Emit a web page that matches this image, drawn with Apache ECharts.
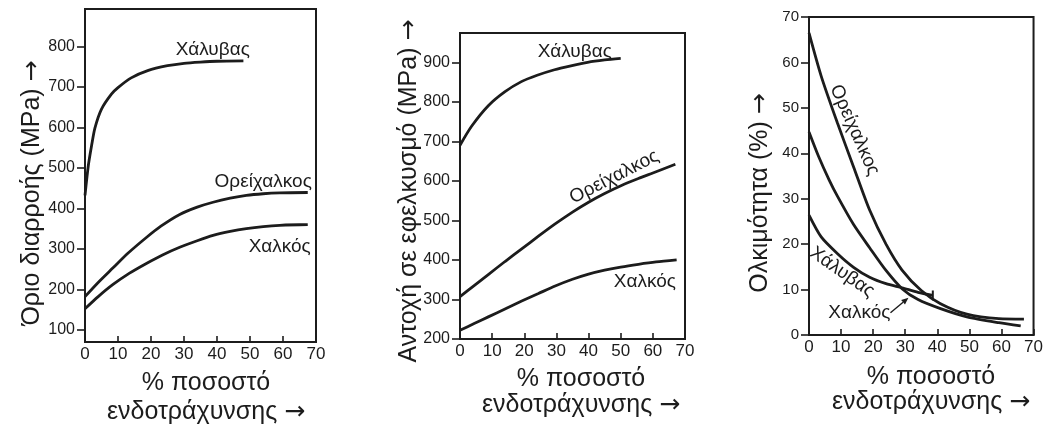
<!DOCTYPE html>
<html>
<head>
<meta charset="utf-8">
<script src="https://cdn.jsdelivr.net/npm/echarts@6/dist/echarts.min.js"></script>
<style>
  html, body { margin: 0; padding: 0; background: #ffffff; }
  #c { width: 1046px; height: 432px; }
</style>
</head>
<body>
<div id="c"></div>
<script>
// ---- data: [% cold work, value] ----
const xTicks = [0, 10, 20, 30, 40, 50, 60, 70];
const yieldTicks = [100, 200, 300, 400, 500, 600, 700, 800];
const tensileTicks = [200, 300, 400, 500, 600, 700, 800, 900];
const ductilityTicks = [0, 10, 20, 30, 40, 50, 60, 70];

const steelName = 'Χάλυβας';
const brassName = 'Ορείχαλκος';
const copperName = 'Χαλκός';

// Yield strength (MPa)
const yieldSteel = [[0, 432], [1, 505], [2, 555], [3, 598], [5, 645], [8, 682], [10, 698], [14, 722], [19, 740], [25, 752], [30, 758], [35, 761], [40, 763], [48, 764]];
const yieldBrass = [[0, 182], [4, 217], [8.5, 253], [13, 289], [18.6, 328], [23, 356], [28.7, 385], [34, 403], [38.8, 415], [44, 425], [48.9, 432], [54, 436], [59, 438], [67.5, 439]];
const yieldCopper = [[0, 152], [4, 182], [8.5, 212], [13.5, 240], [18.6, 264], [23.5, 285], [28.7, 304], [34, 320], [38.8, 333], [44, 343], [48.9, 350], [54, 355], [59, 358], [67.5, 360]];

// Tensile strength (MPa)
const tensileSteel = [[0, 690], [3.6, 738], [8.8, 790], [13.9, 825], [19.1, 851], [24, 867], [29.4, 881], [34.5, 891], [39.7, 900], [45, 906], [50, 910]];
const tensileBrass = [[0, 307], [4.4, 335], [8.8, 363], [14, 396], [19.2, 428], [24.4, 460], [29.6, 491], [35, 521], [40, 546], [45, 568], [50.4, 589], [55.5, 606], [60, 620], [67, 642]];
const tensileCopper = [[0, 222], [4.4, 239], [8.8, 256], [14, 276], [19.2, 296], [24.4, 315], [29.6, 334], [35, 351], [40, 364], [45, 374], [50, 382], [55.5, 389], [61, 395], [67.4, 400]];

// Ductility (%EL)
const ductSteel = [[0, 26.4], [3.8, 21.6], [8.9, 17.9], [13.9, 14.9], [18.9, 12.7], [24, 11.3], [29, 10.4], [34, 9.4], [38.6, 8.7]];
const ductBrass = [[0, 66.5], [3.8, 57], [8.9, 46.6], [13.9, 37], [18.9, 27.5], [24, 20], [29, 14.3], [35, 9.8], [41, 6.9], [49.2, 4.6], [59.2, 3.6], [67, 3.5]];
const ductCopper = [[0, 44.7], [3, 39.3], [6.3, 34.1], [8.9, 30.5], [13.9, 24.3], [18.9, 19.2], [24, 14.2], [29, 10.2], [34, 7.8], [41, 5.8], [49.2, 4.0], [59.2, 2.7], [66, 2.0]];

const yTitles = ['Όριο διαρροής (MPa)', 'Αντοχή σε εφελκυσμό (MPa)', 'Ολκιμότητα (%)'];
const xTitleLines = ['% ποσοστό', 'ενδοτράχυνσης'];
const arrowGlyph = '→';

// ---- styling / layout ----
const INK = '#1c1c1c';
const FONT = '"Liberation Sans", Arial, sans-serif';
const TITLE_PX = 25;

const grids = [
  { left: 85, top: 9, width: 231, height: 333 },
  { left: 460, top: 33, width: 225, height: 306 },
  { left: 809, top: 17, width: 230, height: 318 }
];
const yRanges = [
  { min: 70, max: 892, ticks: yieldTicks },
  { min: 200, max: 974, ticks: tensileTicks },
  { min: 0, max: 70, ticks: ductilityTicks }
];

function xAxis(i) {
  return {
    type: 'value', gridIndex: i, min: 0, max: 70, interval: 10,
    axisLine: { lineStyle: { color: INK, width: 2 } },
    axisTick: { inside: true, length: 6, customValues: xTicks, lineStyle: { color: INK, width: 1.6 } },
    axisLabel: { color: INK, fontSize: 17, fontFamily: FONT, margin: 4, customValues: xTicks },
    splitLine: { show: false }
  };
}
function yAxis(i) {
  const r = yRanges[i];
  return {
    type: 'value', gridIndex: i, min: r.min, max: r.max,
    axisLine: { show: true, lineStyle: { color: INK, width: 2 } },
    axisTick: { show: true, inside: false, length: 8, customValues: r.ticks, lineStyle: { color: INK, width: 1.6 } },
    axisLabel: { color: INK, fontSize: i === 2 ? 15 : 16, fontFamily: FONT, margin: 10, customValues: r.ticks },
    splitLine: { show: false }
  };
}
function curve(name, i, data, endTick) {
  const pts = data.map((p, k) => {
    if (endTick && k === data.length - 1) {
      return { value: p, symbol: 'rect', symbolSize: [2, 10], itemStyle: { color: INK } };
    }
    return { value: p, symbol: 'none' };
  });
  return {
    type: 'line', name: name, xAxisIndex: i, yAxisIndex: i,
    data: pts, smooth: 0.25, showSymbol: true, symbol: 'none',
    lineStyle: { color: INK, width: 2.8 }, itemStyle: { color: INK },
    silent: true, z: 3
  };
}

const chart = echarts.init(document.getElementById('c'), null, { renderer: 'canvas' });

chart.setOption({
  animation: false,
  backgroundColor: '#ffffff',
  grid: grids.map(g => Object.assign({ show: true, borderColor: INK, borderWidth: 2, backgroundColor: 'transparent' }, g)),
  xAxis: [0, 1, 2].map(xAxis),
  yAxis: [0, 1, 2].map(yAxis),
  series: [
    curve(steelName, 0, yieldSteel),
    curve(brassName, 0, yieldBrass),
    curve(copperName, 0, yieldCopper),
    curve(steelName, 1, tensileSteel),
    curve(brassName, 1, tensileBrass),
    curve(copperName, 1, tensileCopper),
    curve(steelName, 2, ductSteel, true),
    curve(brassName, 2, ductBrass),
    curve(copperName, 2, ductCopper)
  ]
});

// curve names placed next to their lines (data coordinates, rotation in degrees)
const curveLabels = [
  { grid: 0, text: steelName, at: [38.7, 791], rot: 0 },
  { grid: 0, text: brassName, at: [54, 465], rot: 0 },
  { grid: 0, text: copperName, at: [59, 304], rot: 0 },
  { grid: 1, text: steelName, at: [35.7, 927], rot: 0 },
  { grid: 1, text: brassName, at: [48, 610], rot: 27 },
  { grid: 1, text: copperName, at: [57.5, 345], rot: 0 },
  { grid: 2, text: brassName, at: [14.2, 45.1], rot: -66 },
  { grid: 2, text: steelName, at: [10.3, 13.8], rot: -35 },
  { grid: 2, text: copperName, at: [15.7, 4.8], rot: 0 }
];
// pointer from the copper label to its curve in the ductility panel
const pointer = { grid: 2, from: [25.4, 4.9], to: [31, 8.2] };

const graphics = [];
curveLabels.forEach(l => {
  const p = chart.convertToPixel({ gridIndex: l.grid }, l.at);
  graphics.push({
    type: 'text', x: p[0], y: p[1], rotation: l.rot * Math.PI / 180, silent: true,
    style: { text: l.text, fill: INK, font: '19px ' + FONT, align: 'center', verticalAlign: 'middle' }
  });
});

(function () {
  const a = chart.convertToPixel({ gridIndex: pointer.grid }, pointer.from);
  const b = chart.convertToPixel({ gridIndex: pointer.grid }, pointer.to);
  const ang = Math.atan2(b[1] - a[1], b[0] - a[0]);
  const L = 7, W = 3;
  const bx = b[0] - L * Math.cos(ang), by = b[1] - L * Math.sin(ang);
  graphics.push({ type: 'line', silent: true, shape: { x1: a[0], y1: a[1], x2: bx, y2: by }, style: { stroke: INK, lineWidth: 1.4 } });
  graphics.push({
    type: 'polygon', silent: true,
    shape: { points: [[b[0], b[1]], [bx + W * Math.sin(ang), by - W * Math.cos(ang)], [bx - W * Math.sin(ang), by + W * Math.cos(ang)]] },
    style: { fill: INK }
  });
})();

// axis titles; the arrow glyph uses a font with a full-width arrow
function titleStyle(str) {
  return {
    text: str + ' {a|' + arrowGlyph + '}',
    rich: { a: { fontFamily: '"DejaVu Sans"', fontSize: TITLE_PX, fill: INK } },
    fill: INK, font: TITLE_PX + 'px ' + FONT, align: 'center', verticalAlign: 'middle'
  };
}
const yTitlePos = [[32, 193], [409, 191], [760, 193]];
const xTitlePos = [[206, 383, 412], [581, 379, 405], [931, 377, 402]];
for (let i = 0; i < 3; i++) {
  graphics.push({
    type: 'text', x: yTitlePos[i][0], y: yTitlePos[i][1], rotation: Math.PI / 2, silent: true,
    style: titleStyle(yTitles[i])
  });
  graphics.push({
    type: 'text', x: xTitlePos[i][0], y: xTitlePos[i][1], silent: true,
    style: { text: xTitleLines[0], fill: INK, font: TITLE_PX + 'px ' + FONT, align: 'center', verticalAlign: 'middle' }
  });
  graphics.push({
    type: 'text', x: xTitlePos[i][0], y: xTitlePos[i][2], silent: true,
    style: titleStyle(xTitleLines[1])
  });
}

chart.setOption({ graphic: graphics });
</script>
</body>
</html>
